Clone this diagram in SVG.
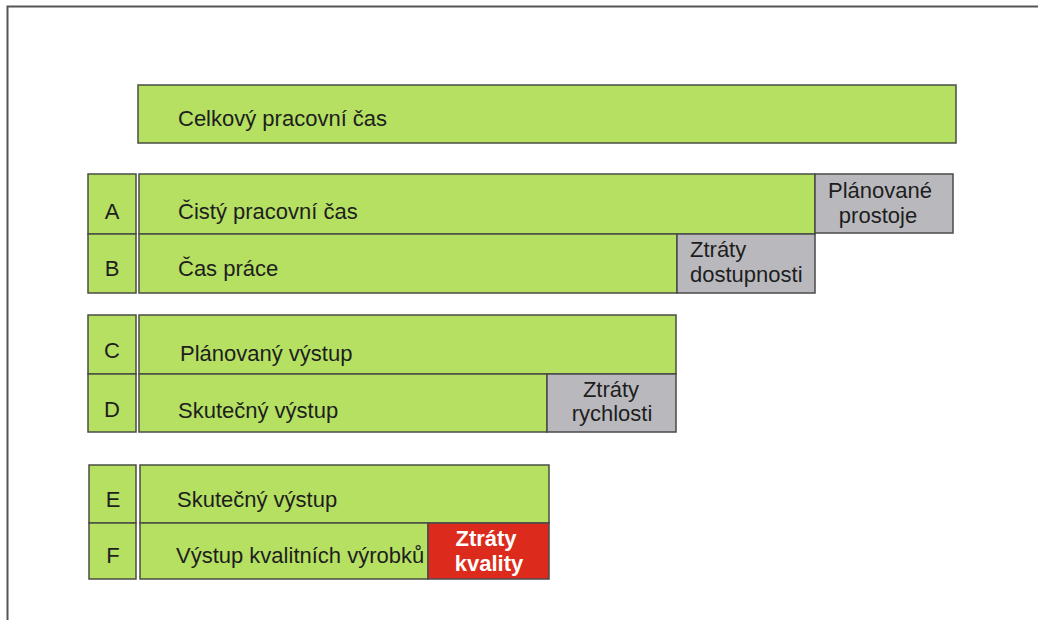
<svg xmlns="http://www.w3.org/2000/svg" width="1038" height="620" viewBox="0 0 1038 620">
  <style>
    .g { fill: #b5e061; stroke: #4a4d44; stroke-width: 1.5; }
    .s { fill: #b9b9bd; stroke: #4a4a4a; stroke-width: 1.5; }
    .r { fill: #dc2b1c; stroke: #4a4a4a; stroke-width: 1.5; }
    text { font-family: "Liberation Sans", Arial, sans-serif; font-size: 22px; fill: #1e1e1e; }
    .c { text-anchor: middle; }
    .w { fill: #ffffff; font-weight: bold; }
  </style>
  <rect width="1038" height="620" fill="#ffffff"/>
  <!-- frame -->
  <path d="M7.5 620 V6.5 H1038" fill="none" stroke="#555555" stroke-width="2"/>

  <g id="celkovy">
    <rect class="g" x="138" y="85" width="818" height="58"/>
    <text x="178" y="126">Celkový pracovní čas</text>
  </g>

  <g id="rowA">
    <rect class="g" x="88" y="174" width="48" height="60"/>
    <text class="c" x="112" y="219">A</text>
    <rect class="g" x="139" y="174" width="676" height="60"/>
    <text x="178" y="219">Čistý pracovní čas</text>
  </g>
  <g id="planovane-prostoje">
    <rect class="s" x="815" y="174" width="138" height="59"/>
    <text class="c" x="880" y="198">Plánované</text>
    <text class="c" x="878" y="223">prostoje</text>
  </g>

  <g id="rowB">
    <rect class="g" x="88" y="234" width="48" height="59"/>
    <text class="c" x="112" y="276">B</text>
    <rect class="g" x="139" y="234" width="538" height="59"/>
    <text x="178" y="276">Čas práce</text>
  </g>
  <g id="ztraty-dostupnosti">
    <rect class="s" x="677" y="234" width="138" height="59"/>
    <text x="690" y="257">Ztráty</text>
    <text x="690" y="282">dostupnosti</text>
  </g>

  <g id="rowC">
    <rect class="g" x="88" y="315" width="48" height="59"/>
    <text class="c" x="112" y="358">C</text>
    <rect class="g" x="139" y="315" width="537" height="59"/>
    <text x="180" y="361">Plánovaný výstup</text>
  </g>

  <g id="rowD">
    <rect class="g" x="88" y="374" width="48" height="58"/>
    <text class="c" x="112" y="417">D</text>
    <rect class="g" x="139" y="374" width="408" height="58"/>
    <text x="178" y="418">Skutečný výstup</text>
  </g>
  <g id="ztraty-rychlosti">
    <rect class="s" x="547" y="374" width="129" height="58"/>
    <text class="c" x="611" y="397">Ztráty</text>
    <text class="c" x="612" y="421">rychlosti</text>
  </g>

  <g id="rowE">
    <rect class="g" x="89" y="465" width="47" height="58"/>
    <text class="c" x="113" y="507">E</text>
    <rect class="g" x="140" y="465" width="409" height="58"/>
    <text x="177" y="507">Skutečný výstup</text>
  </g>

  <g id="rowF">
    <rect class="g" x="89" y="523" width="47" height="56"/>
    <text class="c" x="113" y="563">F</text>
    <rect class="g" x="140" y="523" width="288" height="56"/>
    <text x="176" y="563">Výstup kvalitních výrobků</text>
  </g>
  <g id="ztraty-kvality">
    <rect class="r" x="428" y="523" width="121" height="56"/>
    <text class="c w" x="486" y="546">Ztráty</text>
    <text class="c w" x="489" y="571">kvality</text>
  </g>
</svg>
